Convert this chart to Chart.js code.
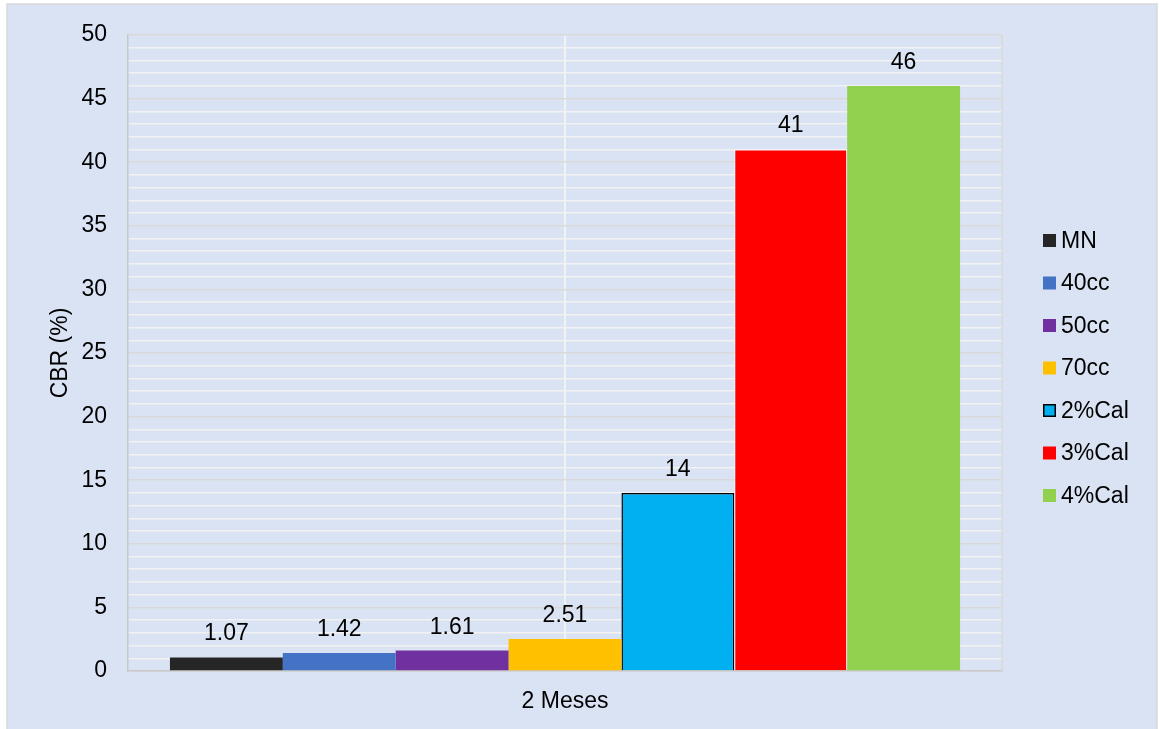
<!DOCTYPE html>
<html>
<head>
<meta charset="utf-8">
<title>CBR (%) – 2 Meses</title>
<script src="https://cdn.jsdelivr.net/npm/chart.js@4/dist/chart.umd.min.js"></script>
<style>
  html, body { margin: 0; padding: 0; background: #ffffff; }
  #wrap { width: 1159px; height: 729px; position: relative; }
</style>
</head>
<body>
<div id="wrap"><canvas id="cbr" width="1159" height="729"></canvas></div>
<script>
// Period on the x axis
const categories = ['2 Meses'];
// Mix names
const seriesNames = ['MN', '40cc', '50cc', '70cc', '2%Cal', '3%Cal', '4%Cal'];
// CBR values (%)
const cbrValues = [1.07, 1.42, 1.61, 2.51, 14, 41, 46];
// Printed value labels
const valueLabels = ['1.07', '1.42', '1.61', '2.51', '14', '41', '46'];
// Y axis range
const yMin = 0;
const yMax = 50;
const yMajorStep = 5;

const fills = ['#262626', '#4472c4', '#7030a0', '#ffc000', '#00b0f0', '#ff0000', '#92d050'];
const strokes = ['#262626', '#4472c4', '#7030a0', '#ffc000', '#000000', '#ffffff', '#92d050'];
const strokeWidths = [0, 0, 0, 0, 1.5, 1, 0];

const FONT = '"Liberation Sans", Arial, sans-serif';

const datasets = seriesNames.map((name, i) => ({
  label: name,
  data: [cbrValues[i]],
  backgroundColor: fills[i],
  borderColor: strokes[i],
  borderWidth: strokeWidths[i],
  categoryPercentage: 0.904,
  barPercentage: 1.0
}));

// Panel background with a thin outline
const panel = {
  id: 'panel',
  beforeDraw(chart) {
    const c = chart.ctx;
    c.save();
    c.fillStyle = '#dae3f3';
    c.fillRect(7, 4, 1150, 730);
    c.strokeStyle = '#d9d9d9';
    c.lineWidth = 1.5;
    c.strokeRect(7, 4, 1150, 730);
    c.restore();
  }
};

// Right edge of the plot frame
const plotFrame = {
  id: 'plotFrame',
  beforeDatasetsDraw(chart) {
    const a = chart.chartArea;
    const c = chart.ctx;
    c.save();
    c.strokeStyle = '#d9d9d9';
    c.lineWidth = 1.5;
    c.beginPath();
    c.moveTo(a.right, a.top);
    c.lineTo(a.right, a.bottom);
    c.stroke();
    c.restore();
  }
};

// Value text above each bar
const barValues = {
  id: 'barValues',
  afterDatasetsDraw(chart) {
    const c = chart.ctx;
    c.save();
    c.font = '23px ' + FONT;
    c.fillStyle = '#000000';
    c.textAlign = 'center';
    c.textBaseline = 'alphabetic';
    chart.data.datasets.forEach((ds, i) => {
      const meta = chart.getDatasetMeta(i);
      meta.data.forEach(bar => {
        c.fillText(valueLabels[i], bar.x, bar.y - 17);
      });
    });
    c.restore();
  }
};

// Legend column on the right
const sideLegend = {
  id: 'sideLegend',
  afterDraw(chart) {
    const a = chart.chartArea;
    const c = chart.ctx;
    const x0 = a.right + 41;
    const y0 = 240.5;
    const step = 42.5;
    const box = 13;
    c.save();
    c.font = '23px ' + FONT;
    c.textAlign = 'left';
    c.textBaseline = 'middle';
    chart.data.datasets.forEach((ds, i) => {
      const cy = y0 + i * step;
      c.fillStyle = ds.backgroundColor;
      c.fillRect(x0, cy - box / 2, box, box);
      if (ds.borderColor === '#000000') {
        c.strokeStyle = '#000000';
        c.lineWidth = 1.5;
        c.strokeRect(x0 + 0.75, cy - box / 2 + 0.75, box - 1.5, box - 1.5);
      }
      c.fillStyle = '#000000';
      c.fillText(ds.label, x0 + box + 5, cy + 1);
    });
    c.restore();
  }
};

new Chart(document.getElementById('cbr'), {
  type: 'bar',
  data: { labels: categories, datasets },
  plugins: [panel, plotFrame, barValues, sideLegend],
  options: {
    responsive: false,
    animation: false,
    events: [],
    layout: { padding: { left: 0, top: 35, right: 157, bottom: 0 } },
    plugins: {
      legend: { display: false },
      tooltip: { enabled: false },
      title: { display: false }
    },
    scales: {
      x: {
        grid: {
          offset: false,
          color: '#f2f2f2',
          lineWidth: 2,
          drawTicks: false
        },
        border: { display: true, color: '#c8c8c8', width: 1.5 },
        ticks: {
          color: '#000000',
          font: { family: FONT, size: 23 },
          padding: 17
        },
        afterFit(scale) { scale.height = 58; }
      },
      y: {
        min: yMin,
        max: yMax,
        grid: {
          drawTicks: false,
          color: ctx => (ctx.tick && ctx.tick.value % yMajorStep === 0) ? '#d9d9d9' : '#f2f2f2',
          lineWidth: 1.5
        },
        border: { display: true, color: '#c8c8c8', width: 1.5 },
        ticks: {
          stepSize: 1,
          autoSkip: false,
          color: '#000000',
          font: { family: FONT, size: 23 },
          padding: 21,
          callback: v => (v % yMajorStep === 0 ? String(v) : '')
        },
        title: {
          display: true,
          text: 'CBR (%)',
          color: '#000000',
          font: { family: FONT, size: 23 },
          padding: { top: 47, bottom: 0 }
        },
        afterFit(scale) { scale.width = 128; }
      }
    }
  }
});
</script>
</body>
</html>
